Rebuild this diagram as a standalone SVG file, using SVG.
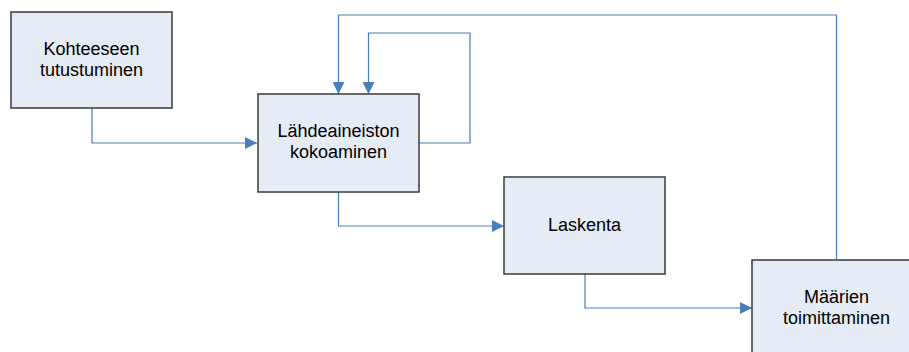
<svg xmlns="http://www.w3.org/2000/svg" width="909" height="352" viewBox="0 0 909 352">
<defs>
<style>
.box{fill:#E6ECF6;stroke:#3A3A3A;stroke-width:1.5}
.lbl{font-family:"Liberation Sans",Arial,sans-serif;font-size:18px;fill:#000;text-anchor:middle}
.con{fill:none;stroke:#4A7EBB;stroke-width:1.2}
</style>
<marker id="ah" viewBox="0 0 12 12" refX="12" refY="6" markerWidth="12" markerHeight="12" markerUnits="userSpaceOnUse" orient="auto">
<path d="M0,0 L12,6 L0,12 Z" fill="#4A7EBB"/>
</marker>
</defs>
<rect width="909" height="352" fill="#fff"/>
<g id="connectors">
<path class="con" d="M92,108 V143 H257" marker-end="url(#ah)"/>
<path class="con" d="M419,143 H470 V33 H368.5 V94" marker-end="url(#ah)"/>
<path class="con" d="M836.5,260 V15 H338.5 V94" marker-end="url(#ah)"/>
<path class="con" d="M338.5,192 V226 H504" marker-end="url(#ah)"/>
<path class="con" d="M585,274 V308 H752" marker-end="url(#ah)"/>
</g>
<g id="n1">
<rect class="box" x="11" y="12" width="161" height="96"/>
<text class="lbl" x="91.5" y="55">Kohteeseen</text>
<text class="lbl" x="91.5" y="76">tutustuminen</text>
</g>
<g id="n2">
<rect class="box" x="258" y="94" width="161" height="98"/>
<text class="lbl" x="338.5" y="137">Lähdeaineiston</text>
<text class="lbl" x="338.5" y="158">kokoaminen</text>
</g>
<g id="n3">
<rect class="box" x="504" y="177" width="161" height="97"/>
<text class="lbl" x="584.5" y="231">Laskenta</text>
</g>
<g id="n4">
<rect class="box" x="752" y="260" width="169" height="100"/>
<text class="lbl" x="836.5" y="303">Määrien</text>
<text class="lbl" x="836.5" y="324">toimittaminen</text>
</g>
</svg>
